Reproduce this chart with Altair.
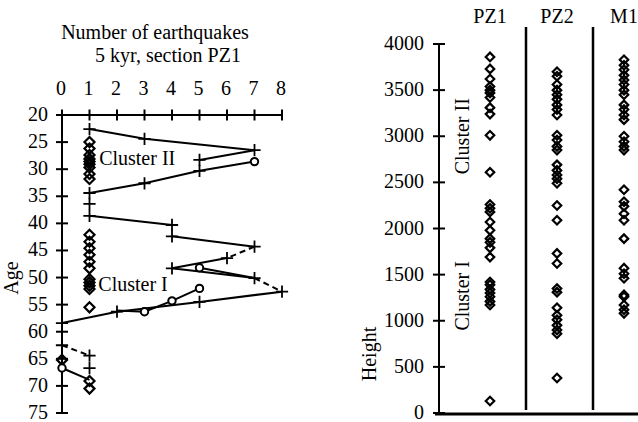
import altair as alt
import pandas as pd

FONT = "Liberation Serif"
FS = 20

# ---------------- Left panel: number of earthquakes per 5 kyr, section PZ1 ----------------
age_ticks = [20, 25, 30, 35, 40, 45, 50, 55, 60, 65, 70, 75]
count_ticks = [0, 1, 2, 3, 4, 5, 6, 7, 8]

plus_age = [22.6, 24.4, 26.5, 28.3, 30.3, 32.6, 34.4, 36.4, 38.6, 40.3, 42.4, 44.3,
            46.4, 48.3, 50.1, 52.6, 54.5, 56.3, 58.4, 62.5, 64.4, 66.7]
plus_count = [1, 3, 7, 5, 5, 3, 1, 1, 1, 4, 4, 7, 6, 4, 7, 8, 5, 2, 0, 0, 1, 1]

circle_age = [28.6, 48.2, 52.0, 54.3, 56.3, 66.7]
circle_count = [7, 5, 5, 4, 3, 0]

diamond_age = [25.0, 26.2, 27.4, 28.1, 28.6, 29.1, 29.7, 30.9, 31.8,
               42.1, 43.4, 44.6, 45.8, 47.1, 48.3, 50.3, 50.9, 51.5, 52.1, 55.5,
               65.2, 69.1, 70.5]
diamond_count = [1] * 20 + [0, 1, 1]

seg_id = [1, 1, 1, 2, 2, 3, 3, 3, 3, 4, 4, 5, 5, 6, 6, 7, 7, 7, 8, 8, 9, 9,
          10, 10, 10, 10, 11, 11, 11, 11, 12, 12, 13, 13]
seg_age = [22.6, 24.4, 26.5, 26.5, 28.3, 28.6, 30.3, 32.6, 34.4, 38.6, 40.3, 42.4, 44.3,
           44.3, 46.4, 46.4, 48.3, 50.1, 48.2, 50.1, 50.1, 52.6,
           52.6, 54.5, 56.3, 58.4, 52.0, 54.3, 56.3, 56.1, 62.5, 64.4, 66.7, 68.9]
seg_count = [1, 3, 7, 7, 5, 7, 5, 3, 1, 1, 4, 4, 7, 7, 6, 6, 4, 7, 5, 7, 7, 8,
             8, 5, 2, 0, 5, 4, 3, 2, 0, 1, 0, 1]
dashed_segments = [6, 9, 12]

left_labels = ["Cluster II", "Cluster I"]
left_label_age = [28.2, 51.4]
left_label_count = [1.35, 1.32]

# ---------------- Right panel: heights of events in sections ----------------
columns = ["PZ1", "PZ2", "M1"]
pz1_height = [3860, 3730, 3620, 3540, 3500, 3470, 3420, 3310, 3240, 3010, 2610, 2260, 2220,
              2180, 2070, 1980, 1890, 1850, 1790, 1690, 1420, 1390, 1340, 1300, 1260, 1210,
              1170, 130]
pz2_height = [3700, 3650, 3560, 3500, 3450, 3400, 3340, 3290, 3230, 3010, 2960, 2890, 2850,
              2690, 2630, 2580, 2540, 2490, 2250, 2090, 1730, 1620, 1350, 1310, 1140, 1060,
              1010, 950, 900, 860, 380]
m1_height = [3830, 3770, 3720, 3660, 3610, 3560, 3500, 3450, 3340, 3290, 3230, 3180, 3000,
             2940, 2890, 2850, 2420, 2290, 2240, 2160, 2090, 1890, 1570, 1510, 1460, 1280,
             1260, 1170, 1120, 1080]
height_ticks = [0, 500, 1000, 1500, 2000, 2500, 3000, 3500, 4000]
right_labels = ["Cluster II", "Cluster I"]
right_label_height = [3000, 1270]

# ---------------- scales ----------------
LX = alt.Scale(domain=[0, 8], range=[62, 282], nice=False, zero=False)
LY = alt.Scale(domain=[20, 75], range=[115, 413], nice=False, zero=False)
RY = alt.Scale(domain=[0, 4000], range=[413, 44], nice=False, zero=False)
RX = alt.Scale(type="point", domain=columns, range=[490, 624], padding=0)

HDASH = "M-1,0L1,0"
VDASH = "M0,-1L0,1"
PLUS = "M-1,0L1,0M0,-1L0,1"


def lx(f="count"):
    return alt.X(f"{f}:Q", scale=LX, axis=None)


def ly(f="age"):
    return alt.Y(f"{f}:Q", scale=LY, axis=None)


layers = []

# left axes
layers.append(alt.Chart(pd.DataFrame({"count": [0], "age": [20], "age2": [75]}))
              .mark_rule(color="black", strokeWidth=2)
              .encode(x=lx(), y=ly(), y2="age2:Q"))
layers.append(alt.Chart(pd.DataFrame({"count": [0], "count2": [8], "age": [20]}))
              .mark_rule(color="black", strokeWidth=2)
              .encode(x=lx(), x2="count2:Q", y=ly()))
ytick_df = pd.DataFrame({"age": age_ticks, "count": [0] * len(age_ticks)})
layers.append(alt.Chart(ytick_df)
              .mark_point(shape=HDASH, size=144, stroke="black", strokeWidth=2, filled=False, opacity=1)
              .encode(x=lx(), y=ly()))
layers.append(alt.Chart(ytick_df)
              .mark_text(align="right", baseline="middle", dx=-14, font=FONT, fontSize=FS, color="black")
              .encode(x=lx(), y=ly(), text="age:Q"))
xtick_df = pd.DataFrame({"count": count_ticks, "age": [20] * len(count_ticks)})
layers.append(alt.Chart(xtick_df)
              .mark_point(shape=VDASH, size=121, stroke="black", strokeWidth=2, filled=False, opacity=1)
              .encode(x=lx(), y=ly()))
layers.append(alt.Chart(xtick_df)
              .mark_text(align="center", baseline="middle", dx=-1, dy=-26, font=FONT, fontSize=FS, color="black")
              .encode(x=lx(), y=ly(), text="count:Q"))

# lines
seg_df = pd.DataFrame({"seg": seg_id, "age": seg_age, "count": seg_count, "i": range(len(seg_id))})
seg_df["dashed"] = seg_df["seg"].isin(dashed_segments)
layers.append(alt.Chart(seg_df[~seg_df["dashed"]])
              .mark_line(color="black", strokeWidth=2)
              .encode(x=lx(), y=ly(), detail="seg:N", order="i:Q"))
layers.append(alt.Chart(seg_df[seg_df["dashed"]])
              .mark_line(color="black", strokeWidth=2, strokeDash=[6, 4])
              .encode(x=lx(), y=ly(), detail="seg:N", order="i:Q"))

# markers
layers.append(alt.Chart(pd.DataFrame({"age": diamond_age, "count": diamond_count}))
              .mark_point(shape="diamond", size=100, stroke="black", strokeWidth=2.2, filled=False, opacity=1)
              .encode(x=lx(), y=ly()))
layers.append(alt.Chart(pd.DataFrame({"age": circle_age, "count": circle_count}))
              .mark_point(shape="circle", size=55, fill="white", stroke="black", strokeWidth=2,
                          filled=True, opacity=1)
              .encode(x=lx(), y=ly()))
layers.append(alt.Chart(pd.DataFrame({"age": plus_age, "count": plus_count}))
              .mark_point(shape=PLUS, size=150, stroke="black", strokeWidth=1.8, filled=False, opacity=1)
              .encode(x=lx(), y=ly()))
layers.append(alt.Chart(pd.DataFrame({"label": left_labels, "age": left_label_age, "count": left_label_count}))
              .mark_text(align="left", baseline="middle", font=FONT, fontSize=FS, color="black")
              .encode(x=lx(), y=ly(), text="label:N"))

# left titles
title_lines = ["Number of earthquakes", "5 kyr, section PZ1"]
layers.append(alt.Chart(pd.DataFrame({"t": [title_lines[0]]}))
              .mark_text(align="center", baseline="middle", font=FONT, fontSize=FS, color="black")
              .encode(x=alt.value(155), y=alt.value(33), text="t:N"))
layers.append(alt.Chart(pd.DataFrame({"t": [title_lines[1]]}))
              .mark_text(align="center", baseline="middle", font=FONT, fontSize=FS, color="black")
              .encode(x=alt.value(168), y=alt.value(56), text="t:N"))
layers.append(alt.Chart(pd.DataFrame({"t": ["Age"]}))
              .mark_text(align="center", baseline="middle", angle=270, font=FONT, fontSize=FS, color="black")
              .encode(x=alt.value(12), y=alt.value(278), text="t:N"))

# ---------------- right panel ----------------
def ry(f="height"):
    return alt.Y(f"{f}:Q", scale=RY, axis=None)


layers.append(alt.Chart(pd.DataFrame({"height": [0], "h2": [4000]}))
              .mark_rule(color="black", strokeWidth=2)
              .encode(x=alt.value(439), y=ry(), y2="h2:Q"))
htick_df = pd.DataFrame({"height": height_ticks})
layers.append(alt.Chart(htick_df)
              .mark_point(shape=HDASH, size=144, stroke="black", strokeWidth=2, filled=False, opacity=1)
              .encode(x=alt.value(439), y=ry()))
layers.append(alt.Chart(htick_df)
              .mark_text(align="right", baseline="middle", font=FONT, fontSize=FS, color="black")
              .encode(x=alt.value(424), y=ry(), text="height:Q"))
layers.append(alt.Chart(pd.DataFrame({"x": [526, 593]}))
              .mark_rule(color="black", strokeWidth=2.5)
              .encode(x=alt.X("x:Q", scale=None, axis=None), y=alt.value(27), y2=alt.value(410)))
layers.append(alt.Chart(pd.DataFrame({"a": [0]}))
              .mark_rule(color="black", strokeWidth=3)
              .encode(x=alt.value(435), x2=alt.value(638), y=alt.value(414)))

right_df = pd.DataFrame({
    "section": ["PZ1"] * len(pz1_height) + ["PZ2"] * len(pz2_height) + ["M1"] * len(m1_height),
    "height": pz1_height + pz2_height + m1_height,
})
layers.append(alt.Chart(right_df)
              .mark_point(shape="diamond", size=72, stroke="black", strokeWidth=2.2, filled=False, opacity=1)
              .encode(x=alt.X("section:N", scale=RX, axis=None), y=ry()))
layers.append(alt.Chart(pd.DataFrame({"section": columns}))
              .mark_text(align="center", baseline="middle", font=FONT, fontSize=FS, color="black")
              .encode(x=alt.X("section:N", scale=RX, axis=None), y=alt.value(17), text="section:N"))
layers.append(alt.Chart(pd.DataFrame({"label": right_labels, "height": right_label_height}))
              .mark_text(align="center", baseline="middle", angle=270, font=FONT, fontSize=FS, color="black")
              .encode(x=alt.value(463), y=ry(), text="label:N"))
layers.append(alt.Chart(pd.DataFrame({"t": ["Height"]}))
              .mark_text(align="center", baseline="middle", angle=270, font=FONT, fontSize=FS, color="black")
              .encode(x=alt.value(370), y=alt.value(354), text="t:N"))

chart = (alt.layer(*layers)
         .resolve_scale(x="independent", y="independent")
         .properties(width=638, height=422, padding=0,
                     autosize=alt.AutoSizeParams(type="none"), background="white")
         .configure_view(stroke=None))

chart.save("out.html", embed_options={"renderer": "svg", "actions": False})
